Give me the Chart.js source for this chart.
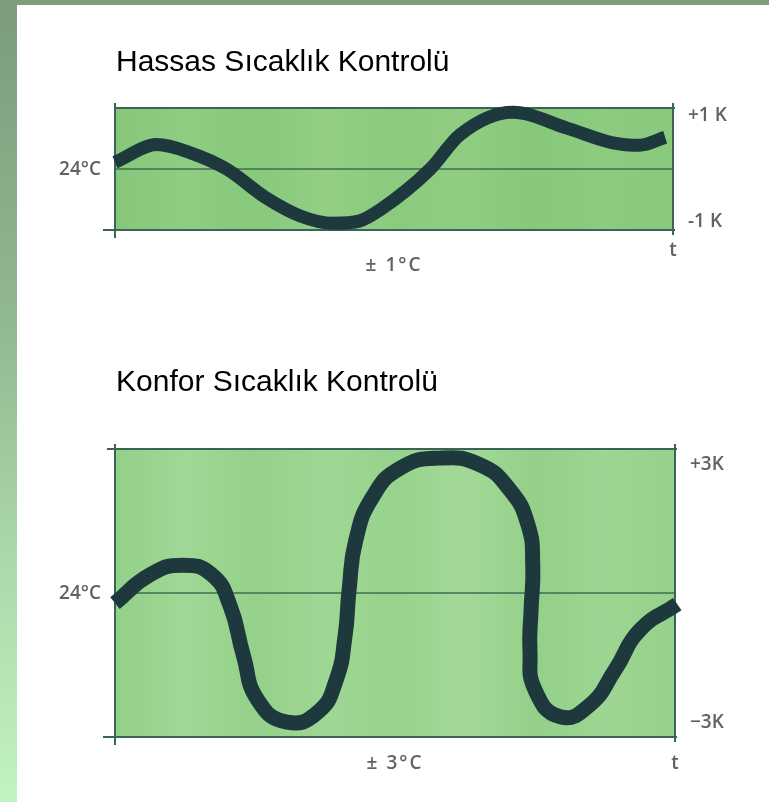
<!DOCTYPE html>
<html>
<head>
<meta charset="utf-8">
<script src="https://cdn.jsdelivr.net/npm/chart.js@4"></script>
<style>
  html, body { margin:0; padding:0; background:#fff; }
  body { width:769px; height:802px; position:relative; overflow:hidden; }
  #topbar { position:absolute; left:0; top:0; width:769px; height:5px; background:#7d9d7d; }
  #leftbar { position:absolute; left:0; top:0; width:17px; height:802px;
             background:linear-gradient(to bottom, #7c9c7c 0%, #92b892 40%, #abd9ab 70%, #c2f3c2 100%); }
  canvas { position:absolute; left:0; }
  #c1 { top:0; }
  #c2 { top:300px; }
</style>
</head>
<body>
<div id="leftbar"></div>
<div id="topbar"></div>
<canvas id="c1" width="769" height="300"></canvas>
<canvas id="c2" width="769" height="502"></canvas>
<script>
// ---- Data ----
const title1 = 'Hassas Sıcaklık Kontrolü';
const title2 = 'Konfor Sıcaklık Kontrolü';

// time (0..100) and deviation in K
const time1 = [0, 7.5, 13.4, 20, 27.2, 33.2, 39, 43.9, 47.5, 56.5, 61.8, 71.3, 81, 89.2, 94, 98.6];
const dev1  = [0.11, 0.40, 0.27, 0, -0.48, -0.77, -0.89, -0.85, -0.67, 0, 0.56, 0.93, 0.67, 0.43, 0.39, 0.52];

const time2 = [0, 6.25, 12.1, 17.3, 20.5, 22.9, 25.5, 30.7, 36.25, 39.5, 41.1, 41.8, 43.0, 46.0, 50.9, 58, 65.2, 70.5, 73.75, 74.6, 74.3, 74.1, 75, 79.5, 84.8, 89.3, 93.75, 100.4];
const dev2  = [-0.21, 0.38, 0.58, 0.38, -0.25, -1.29, -2.23, -2.69, -2.48, -1.81, -0.88, 0.06, 1.1, 2.0, 2.6, 2.81, 2.67, 2.15, 1.42, 0.58, -0.35, -1.19, -2.02, -2.58, -2.33, -1.60, -0.77, -0.23];

const range1 = 1;
const range2 = 3;
const upperLabel1 = '+1 K', lowerLabel1 = '-1 K', centerLabel1 = '24°C', spanLabel1 = '± 1°C';
const upperLabel2 = '+3K',  lowerLabel2 = '−3K',  centerLabel2 = '24°C', spanLabel2 = '± 3°C';
const timeLabel = 't';

// ---- Drawing helpers ----
function decoPlugin(cfg) {
  return {
    id: 'deco',
    beforeDatasetsDraw(chart) {
      const {ctx, chartArea: a, scales: {x, y}} = chart;
      ctx.save();
      const g = ctx.createLinearGradient(a.left, 0, a.right, 0);
      const cols = cfg.bg;
      cols.forEach((c, i) => g.addColorStop(i / (cols.length - 1), c));
      ctx.fillStyle = g;
      ctx.fillRect(a.left, a.top, a.right - a.left, a.bottom - a.top);
      const y0 = y.getPixelForValue(0);
      ctx.strokeStyle = '#3f6e55';
      ctx.lineWidth = 1.5;
      ctx.beginPath(); ctx.moveTo(a.left, y0); ctx.lineTo(a.right, y0); ctx.stroke();
      ctx.strokeStyle = '#3b6457';
      ctx.lineWidth = 2;
      const yt = y.getPixelForValue(cfg.range), yb = y.getPixelForValue(-cfg.range);
      const xl = x.getPixelForValue(0), xr = x.getPixelForValue(100);
      ctx.beginPath();
      ctx.moveTo(xl - cfg.topExt, yt); ctx.lineTo(xr + 2, yt);
      ctx.moveTo(xl - 12, yb); ctx.lineTo(xr + 2, yb);
      ctx.moveTo(xl, yt - 5); ctx.lineTo(xl, yb + 8);
      ctx.moveTo(xr, yt - 5); ctx.lineTo(xr, yb + 5);
      ctx.stroke();
      ctx.restore();
    },
    afterDraw(chart) {
      const {ctx, chartArea: a, scales: {x, y}} = chart;
      ctx.save();
      ctx.fillStyle = '#000';
      ctx.font = '30px "Liberation Sans", Arial, sans-serif';
      ctx.textAlign = 'left'; ctx.textBaseline = 'alphabetic';
      ctx.fillText(cfg.title, 116, cfg.titleY);
      ctx.fillStyle = '#626262';
      ctx.font = '600 19px "Open Sans", "Liberation Sans", sans-serif';
      ctx.textBaseline = 'middle';
      ctx.textAlign = 'right';
      ctx.fillText(cfg.center, x.getPixelForValue(0) - 14, y.getPixelForValue(0) + 1);
      ctx.textAlign = 'left';
      ctx.fillText(cfg.upper, x.getPixelForValue(100) + 15, y.getPixelForValue(cfg.range) + cfg.upOff);
      ctx.fillText(cfg.lower, x.getPixelForValue(100) + 15, y.getPixelForValue(-cfg.range) + cfg.lowOff);
      ctx.textAlign = 'center';
      ctx.letterSpacing = '2px';
      ctx.fillText(cfg.span, (a.left + a.right) / 2, y.getPixelForValue(-cfg.range) + cfg.spanOff);
      ctx.letterSpacing = '0px';
      ctx.fillText(timeLabel, x.getPixelForValue(100), y.getPixelForValue(-cfg.range) + cfg.tOff);
      ctx.restore();
    }
  };
}

function makeChart(id, times, devs, range, width, pad, cfg, mode, tension) {
  new Chart(document.getElementById(id), {
    type: 'line',
    data: {
      datasets: [{
        data: times.map((t, i) => ({x: t, y: devs[i]})),
        borderColor: '#1e393d',
        borderWidth: width,
        borderCapStyle: 'butt',
        borderJoinStyle: 'round',
        pointRadius: 0,
        tension: tension,
        cubicInterpolationMode: mode,
        fill: false,
        clip: false
      }]
    },
    options: {
      responsive: false,
      animation: false,
      devicePixelRatio: 1,
      layout: { padding: pad },
      plugins: { legend: {display: false}, tooltip: {enabled: false}, title: {display: false} },
      scales: {
        x: { type: 'linear', min: 0, max: 100, display: false },
        y: { type: 'linear', min: -range, max: range, display: false }
      }
    },
    plugins: [decoPlugin(cfg)]
  });
}

makeChart('c1', time1, dev1, range1, 13, {left: 115, right: 96, top: 108, bottom: 70}, {
  title: title1, titleY: 71, range: range1, topExt: 0,
  center: centerLabel1, upper: upperLabel1, lower: lowerLabel1, span: spanLabel1,
  upOff: 8, lowOff: -8, spanOff: 36, tOff: 21,
  bg: ['#86c77a', '#8fcd82', '#88c97c', '#92cf85', '#8acb7e', '#90cd83', '#87c87b', '#8dcc80', '#89c97d']
}, 'monotone', 0.4);

makeChart('c2', time2, dev2, range2, 15, {left: 115, right: 94, top: 149, bottom: 65}, {
  title: title2, titleY: 91, range: range2, topExt: 8,
  center: centerLabel2, upper: upperLabel2, lower: lowerLabel2, span: spanLabel2,
  upOff: 16, lowOff: -14, spanOff: 27, tOff: 27,
  bg: ['#93d088', '#a0d895', '#95d18a', '#9fd794', '#97d38c', '#a3d998', '#94d089', '#9dd692', '#96d28b']
}, 'default', 0.5);
</script>
</body>
</html>
